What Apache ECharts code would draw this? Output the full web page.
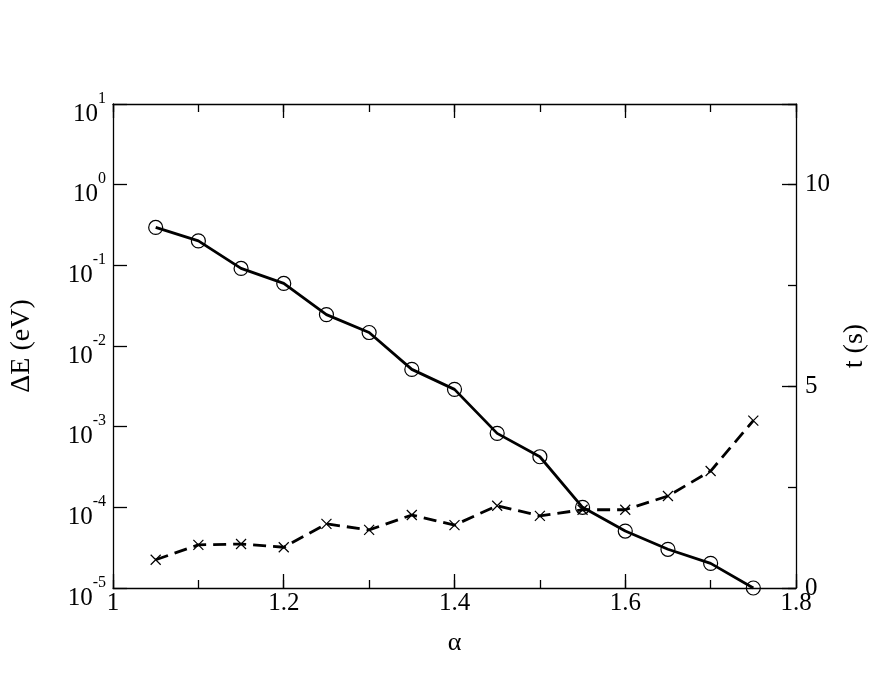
<!DOCTYPE html>
<html>
<head>
<meta charset="utf-8">
<script src="https://cdn.jsdelivr.net/npm/echarts@6/dist/echarts.min.js"></script>
<style>
  html, body { margin: 0; padding: 0; background: #fff; }
  #chart { width: 896px; height: 692px; }
</style>
</head>
<body>
<div id="chart"></div>
<script>
// alpha values on the x axis
var alpha = [1.05, 1.1, 1.15, 1.2, 1.25, 1.3, 1.35, 1.4, 1.45, 1.5, 1.55, 1.6, 1.65, 1.7, 1.75];
// energy error, left log axis (circles, solid line)
var deltaE = [0.295, 0.201, 0.0916, 0.0597, 0.0245, 0.0147, 0.00513, 0.0029, 0.000826, 0.000424,
              0.0001, 0.0000508, 0.0000302, 0.0000202, 0.00001];
// run time in seconds, right axis (crosses, dashed line)
var timeS = [0.70, 1.07, 1.09, 1.01, 1.59, 1.44, 1.81, 1.56, 2.04, 1.79, 1.94, 1.94, 2.28, 2.90, 4.15];

var font = "'Liberation Serif', 'Times New Roman', serif";
var ink = "#000";

var chart = echarts.init(document.getElementById("chart"));

function pairs(ys) {
  return alpha.map(function (a, i) { return [a, ys[i]]; });
}

var axisLine = { show: true, lineStyle: { color: ink, width: 1.3 } };
var noLine = { show: false };
var noLabel = { show: false };
var noSplit = { show: false };

function ticks(len) {
  return { inside: true, length: len, lineStyle: { color: ink, width: 1.3 } };
}

// extra axis that only draws the short ticks
function xMinor(pos) {
  return {
    type: "value", min: 1, max: 1.8, interval: 0.1, position: pos,
    axisLine: noLine, axisTick: ticks(8), axisLabel: noLabel, splitLine: noSplit
  };
}

var option = {
  backgroundColor: "#fff",
  animation: false,
  grid: { left: 111, right: 100, top: 104, bottom: 104, containLabel: false },
  xAxis: [
    {
      type: "value",
      min: 1,
      max: 1.8,
      interval: 0.2,
      position: "bottom",
      name: "α",
      nameLocation: "middle",
      nameGap: 42,
      nameTextStyle: { fontFamily: font, fontSize: 26, color: ink },
      axisLine: axisLine,
      axisTick: ticks(14),
      axisLabel: {
        margin: 3,
        fontFamily: font,
        fontSize: 25,
        color: ink,
        formatter: function (v) { return String(+v.toFixed(1)); }
      },
      splitLine: noSplit
    },
    xMinor("bottom"),
    {
      type: "value", min: 1, max: 1.8, interval: 0.2, position: "top",
      axisLine: axisLine, axisTick: ticks(14), axisLabel: noLabel, splitLine: noSplit
    },
    xMinor("top")
  ],
  yAxis: [
    {
      type: "log",
      logBase: 10,
      min: 0.00001,
      max: 10,
      position: "left",
      name: "ΔE (eV)",
      nameLocation: "middle",
      nameRotate: 90,
      nameGap: 77,
      nameTextStyle: { fontFamily: font, fontSize: 28, color: ink },
      axisLine: axisLine,
      axisTick: ticks(14),
      axisLabel: {
        margin: 7,
        color: ink,
        padding: [9, 0, 0, 0],
        formatter: function (v) {
          var e = Math.round(Math.log(v) / Math.LN10);
          return "{b|10}{s|" + e + "}";
        },
        rich: {
          b: { fontFamily: font, fontSize: 25, color: ink, lineHeight: 36, verticalAlign: "bottom" },
          s: { fontFamily: font, fontSize: 16, color: ink, verticalAlign: "top" }
        }
      },
      splitLine: noSplit
    },
    {
      type: "value",
      min: 0,
      max: 12,
      interval: 5,
      position: "right",
      name: "t (s)",
      nameLocation: "middle",
      nameRotate: 90,
      nameGap: 42,
      nameTextStyle: { fontFamily: font, fontSize: 28, color: ink },
      axisLine: axisLine,
      axisTick: ticks(14),
      axisLabel: {
        margin: 9,
        fontFamily: font,
        fontSize: 25,
        color: ink,
        formatter: function (v) { return v % 5 === 0 ? String(v) : ""; }
      },
      splitLine: noSplit
    },
    {
      // short ticks of the right axis
      type: "value", min: 0, max: 12, interval: 2.5, position: "right",
      axisLine: noLine, axisTick: ticks(8), axisLabel: noLabel, splitLine: noSplit
    }
  ],
  series: [
    {
      name: "ΔE",
      type: "line",
      xAxisIndex: 0,
      yAxisIndex: 0,
      data: pairs(deltaE),
      clip: false,
      symbol: "circle",
      symbolSize: 14,
      itemStyle: { color: "rgba(0,0,0,0)", borderColor: ink, borderWidth: 1.2 },
      lineStyle: { color: ink, width: 2.8, type: "solid" },
      z: 3
    },
    {
      name: "t",
      type: "line",
      xAxisIndex: 0,
      yAxisIndex: 1,
      data: pairs(timeS),
      clip: false,
      symbol: "path://M0,0L10,10M10,0L0,10",
      symbolSize: 10,
      itemStyle: { color: "rgba(0,0,0,0)", borderColor: ink, borderWidth: 1.2 },
      lineStyle: { color: ink, width: 2.8, type: [13, 7] },
      z: 2
    }
  ]
};

chart.setOption(option);
window.addEventListener("resize", function () { chart.resize(); });
</script>
</body>
</html>
